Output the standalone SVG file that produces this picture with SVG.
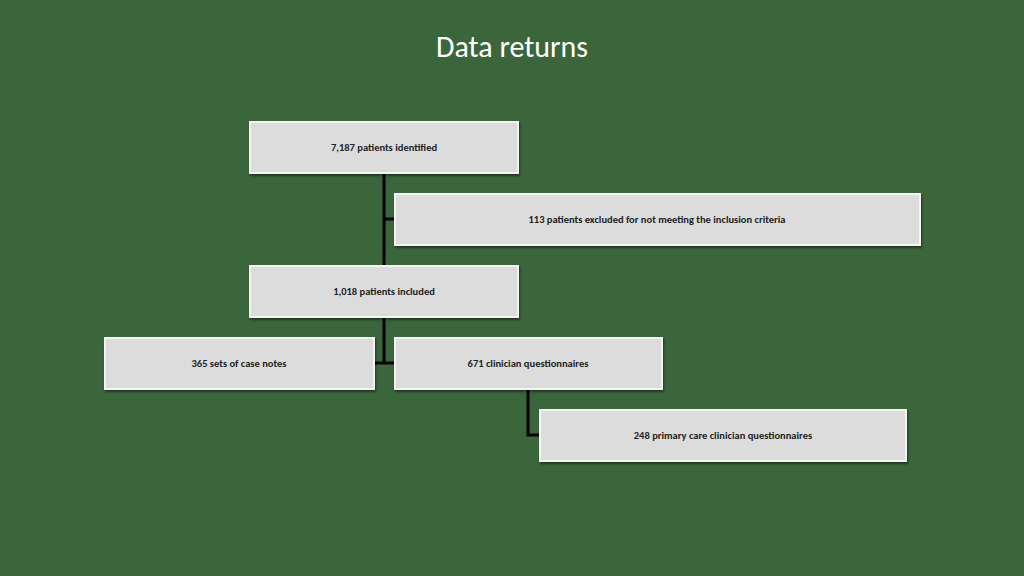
<svg xmlns="http://www.w3.org/2000/svg" width="1024" height="576" viewBox="0 0 1024 576">
<style>
.b{fill:#dcdcdc;stroke:#f4f4f4;stroke-width:2}
.t{font-family:Calibri,Carlito,"Liberation Sans",sans-serif;font-size:10.5px;font-weight:bold;fill:#222;text-anchor:middle}
.c{stroke:#000;stroke-width:3;fill:none}
</style>
<defs><filter id="s" x="-5%" y="-20%" width="110%" height="150%"><feDropShadow dx="1" dy="2" stdDeviation="1.2" flood-color="#000" flood-opacity="0.45"/></filter></defs>
<rect width="1024" height="576" fill="#3b653b"/>
<text x="512" y="57" font-family="Calibri,Carlito,'Liberation Sans',sans-serif" font-size="30" fill="#fff" text-anchor="middle">Data returns</text>
<g id="connectors">
<path class="c" d="M384 173V266M384 219H396M384 317V363M374 363H396M528 389V435H541"/>
</g>
<g id="n1"><rect class="b" filter="url(#s)" x="250" y="122" width="268" height="51"/><text class="t" x="384" y="151">7,187 patients identified</text></g>
<g id="n2"><rect class="b" filter="url(#s)" x="395" y="194" width="525" height="51"/><text class="t" x="657" y="223">113 patients excluded for not meeting the inclusion criteria</text></g>
<g id="n3"><rect class="b" filter="url(#s)" x="250" y="266" width="268" height="51"/><text class="t" x="384" y="295">1,018 patients included</text></g>
<g id="n4"><rect class="b" filter="url(#s)" x="105" y="338" width="269" height="51"/><text class="t" x="239" y="367">365 sets of case notes</text></g>
<g id="n5"><rect class="b" filter="url(#s)" x="395" y="338" width="267" height="51"/><text class="t" x="528" y="367">671 clinician questionnaires</text></g>
<g id="n6"><rect class="b" filter="url(#s)" x="540" y="410" width="366" height="51"/><text class="t" x="723" y="439">248 primary care clinician questionnaires</text></g>
</svg>
